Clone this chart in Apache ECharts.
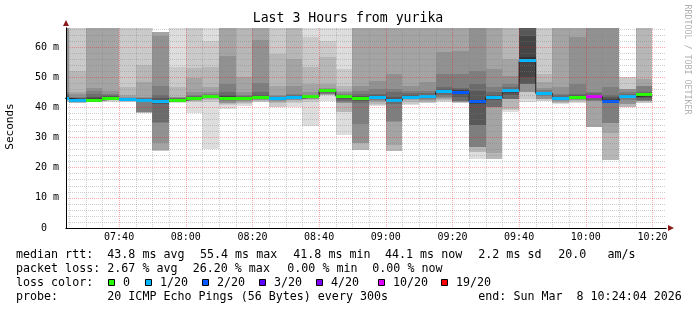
<!DOCTYPE html>
<html><head><meta charset="utf-8">
<script src="https://cdn.jsdelivr.net/npm/echarts@6/dist/echarts.min.js"></script>
<style>html,body{margin:0;padding:0;background:#fff}#c{width:697px;height:310px}</style>
</head><body><div id="c"></div>
<script>
// ---- data ----
const barEndTimes = ['07:25','07:30','07:35','07:40','07:45','07:50','07:55',
  '08:00','08:05','08:10','08:15','08:20','08:25','08:30','08:35','08:40','08:45','08:50','08:55',
  '09:00','09:05','09:10','09:15','09:20','09:25','09:30','09:35','09:40','09:45','09:50','09:55',
  '10:00','10:05','10:10','10:15','10:20'];
const medianRtt = [43.0,42.4,42.4,42.9,42.5,42.3,41.9,42.4,42.9,43.7,
  42.9,42.9,43.1,42.9,43.1,43.5,45.6,43.7,43.0,43.2,
  42.3,43.4,43.5,45.3,45.0,41.8,43.3,45.5,55.4,44.6,
  42.9,43.4,43.6,42.1,43.6,44.1];
const lostPings = [0.6,0.4,0,0,0.5,0.6,0.8,0,0,0,
  0,0,0,0.4,0.5,0,0,0,0,0.4,
  0.6,0.5,0.4,0.7,1.4,1.6,0.5,0.6,0.8,0.5,
  0.4,0,5.24,1.3,0.4,0];
// 20 sorted ping RTTs per step (ms); 99 = beyond the top of the graph
const pingRtts = [
  [41.7,41.9,42.1,42.3,42.5,42.6,42.7,42.8,42.9,43.0,43.2,43.5,44.0,44.5,45.0,99,99,99,99,99],
  [41.3,41.3,41.6,41.8,42.0,42.1,42.2,42.3,42.3,42.4,42.5,42.8,43.0,43.2,43.5,44.5,45.0,52.2,99,99],
  [41.7,41.8,41.9,42.0,42.1,42.2,42.2,42.3,42.3,42.4,42.6,43.0,43.5,44.5,45.5,46.4,99,99,99,99],
  [41.9,42.1,42.3,42.4,42.5,42.6,42.7,42.8,42.8,42.9,43.0,43.3,43.6,44.0,44.5,45.3,99,99,99,99],
  [41.9,41.9,42.0,42.1,42.2,42.3,42.4,42.4,42.5,42.5,42.7,42.9,43.0,43.1,43.2,43.4,44.0,46.6,99,99],
  [38.0,38.0,38.1,38.5,38.6,38.6,41.7,41.9,42.1,42.2,42.4,42.6,42.8,43.0,43.2,43.5,48.4,54.2,99,99],
  [25.6,25.6,25.7,26.0,28.1,34.9,35.0,41.0,41.5,41.8,42.1,42.5,43.0,44.0,47.1,63.5,64.9,64.9,64.9,64.9],
  [41.5,41.7,41.9,42.0,42.1,42.2,42.2,42.3,42.3,42.4,42.5,42.6,42.8,43.0,43.1,43.3,43.5,46.6,53.5,99],
  [38.0,41.8,42.0,42.2,42.4,42.5,42.6,42.7,42.8,42.9,43.0,43.2,43.4,43.6,44.0,45.2,49.6,52.9,99,99],
  [26.1,41.7,42.3,42.8,43.0,43.2,43.3,43.4,43.5,43.6,43.8,43.9,44.0,44.2,44.5,45.2,46.6,53.3,61.9,99],
  [39.5,40.8,41.1,41.3,41.6,42.0,42.3,42.5,42.7,42.8,43.2,43.8,44.2,45.2,47.7,57.1,99,99,99,99],
  [40.4,41.2,41.6,41.9,42.2,42.4,42.5,42.6,42.7,42.8,43.0,43.2,43.5,43.8,44.2,45.0,50.0,99,99,99],
  [41.7,41.9,42.1,42.3,42.5,42.6,42.7,42.8,42.9,43.0,43.3,43.7,44.2,45.0,48.0,62.3,99,99,99,99],
  [40.0,40.0,41.5,41.9,42.1,42.3,42.5,42.6,42.7,42.8,43.0,43.1,43.3,43.5,43.8,44.2,47.2,57.7,99,99],
  [40.0,41.5,42.0,42.3,42.5,42.7,42.8,42.9,43.0,43.0,43.2,43.4,43.7,44.0,44.5,47.2,56.0,99,99,99],
  [33.8,41.8,42.3,42.6,42.9,43.0,43.1,43.2,43.3,43.4,43.6,43.7,43.8,44.0,44.2,45.0,47.7,53.3,63.2,99],
  [42.0,44.0,44.1,44.2,44.3,44.5,44.8,45.0,45.2,45.4,45.7,45.8,45.9,46.0,46.2,46.5,47.7,56.6,62.1,99],
  [30.8,38.5,38.6,41.4,41.6,41.8,42.2,42.8,43.2,43.5,43.8,43.9,44.0,44.2,44.5,45.0,45.5,47.2,52.7,99],
  [25.9,25.9,25.9,28.1,28.1,34.5,41.3,42.2,42.6,42.9,43.1,43.4,43.8,44.5,45.5,47.2,99,99,99,99],
  [40.5,40.8,41.2,41.8,42.2,42.5,42.7,42.9,43.0,43.1,43.3,43.6,44.0,44.5,46.0,48.8,99,99,99,99],
  [25.6,25.6,25.6,27.5,35.2,35.5,41.0,41.8,42.0,42.2,42.5,42.8,43.5,45.0,46.0,51.0,99,99,99,99],
  [40.8,41.2,41.8,42.3,42.6,42.8,43.0,43.1,43.2,43.3,43.5,43.8,44.2,44.8,45.5,47.2,99,99,99,99],
  [41.3,41.6,41.9,42.2,42.5,42.8,43.0,43.1,43.2,43.4,43.6,43.8,44.2,44.8,45.5,48.3,99,99,99,99],
  [41.7,42.0,42.3,42.6,43.0,43.3,44.0,44.6,45.0,45.2,45.4,45.8,46.0,46.6,51.0,58.2,99,99,99,99],
  [41.5,41.6,41.7,41.8,41.9,42.0,42.1,43.5,44.3,44.8,45.2,45.6,46.0,46.5,51.0,58.8,99,99,99,99],
  [22.8,25.3,25.3,27.0,27.0,27.0,34.1,34.1,41.0,41.6,42.0,42.5,45.5,47.7,52.2,99,99,99,99,99],
  [22.8,22.8,22.8,25.0,40.0,40.0,40.0,42.5,43.0,43.2,43.5,43.8,44.2,45.0,46.6,52.7,99,99,99,99],
  [38.6,39.0,39.4,42.6,42.6,42.6,42.6,44.0,44.8,45.3,45.8,46.0,46.2,46.8,47.7,50.5,56.0,99,99,99],
  [41.8,42.8,45.0,45.0,45.0,47.7,47.7,47.7,50.0,55.2,56.6,63.8,99,99,99,99,99,99,99,99],
  [42.0,42.0,42.6,42.6,42.6,43.8,44.0,44.2,44.4,44.5,44.7,44.9,45.0,45.2,45.6,46.5,48.3,51.0,99,99],
  [41.1,41.3,41.6,41.9,42.2,42.4,42.6,42.7,42.8,42.85,43.0,43.2,43.5,44.0,44.5,46.6,99,99,99,99],
  [41.5,41.7,42.0,42.3,42.5,42.8,43.0,43.1,43.2,43.3,43.5,43.7,44.0,44.5,47.7,63.2,99,99,99,99],
  [33.6,33.6,33.6,33.6,42.2,42.2,42.5,43.0,43.3,43.5,43.7,43.9,44.2,44.8,45.0,99,99,99,99,99],
  [22.5,22.5,22.5,31.6,34.9,34.9,41.4,41.8,42.0,42.1,42.3,42.8,43.5,44.0,46.6,99,99,99,99,99],
  [40.0,40.0,40.0,41.1,41.1,42.5,43.0,43.2,43.4,43.5,43.7,43.8,44.0,44.3,45.0,46.0,46.0,46.0,50.0,50.0],
  [41.3,41.3,42.0,42.0,42.0,42.0,42.5,43.0,43.5,43.9,44.2,44.4,44.7,45.0,47.2,47.2,49.4,99,99,99]
];
const xTickLabels = ['07:40','08:00','08:20','08:40','09:00','09:20','09:40','10:00','10:20'];
const yTickValues = [0,10,20,30,40,50,60];
const yTickLabels = ['0  ','10 m','20 m','30 m','40 m','50 m','60 m'];
const lossThresholds = [0,1,2,3,4,10,19];
const lossColors = ['#26ff00','#00b8ff','#0059ff','#5e00ff','#7e00ff','#dd00ff','#ff0000'];
const lossLabels = ['0','1/20','2/20','3/20','4/20','10/20','19/20'];
const endTime = '10:24:04';
const yMax = 66.3;
const stepMin = 5;

// ---- build ----
const toMin = s => { const a = s.split(':').map(Number); return a[0]*60 + a[1] + (a[2]||0)/60; };
const tEnd = toMin(endTime), tStart = tEnd - 180;
const MONO = 'DejaVu Sans Mono';

const smokeData = [];
pingRtts.forEach((p, i) => {
  const e = toMin(barEndTimes[i]), s = e - stepMin;
  for (let k = 0; k < 10; k++) {
    const lo = p[k], hi = p[19 - k];
    if (lo == null || hi == null) continue;
    smokeData.push([s, e, lo, Math.min(hi, yMax), k]);
  }
});
const lossIdx = l => { for (let i = 0; i < lossThresholds.length; i++) if (l <= lossThresholds[i]) return i; return lossThresholds.length - 1; };
const medianData = medianRtt.map((m, i) => { const e = toMin(barEndTimes[i]); return [e - stepMin, e, m, lossIdx(lostPings[i])]; });
const lineData = [[toMin(barEndTimes[0]) - stepMin, medianRtt[0]]].concat(medianRtt.map((m, i) => [toMin(barEndTimes[i]), m]));

const majorX = xTickLabels.map(toMin);
const minorX = [];
for (let t = Math.ceil(tStart / 5) * 5; t <= tEnd; t += 5) if (majorX.indexOf(t) < 0) minorX.push(t);
const minorY = [];
for (let v = 2; v <= yMax; v += 2) if (v % 10 !== 0) minorY.push(v);

function clipRect(params, api, x0, x1, y0, y1) {
  const a = api.coord([x0, y1]), b = api.coord([x1, y0]);
  const r = { x: Math.round(a[0]), y: Math.round(a[1]) };
  r.width = Math.round(b[0]) - r.x; r.height = Math.round(b[1]) - r.y;
  const cs = params.coordSys;
  return echarts.graphic.clipRectByRect(r, { x: cs.x, y: cs.y, width: cs.width, height: cs.height });
}

const grayHex = k => { const g = (221 - 19 * k).toString(16).padStart(2, '0'); return '#' + g + g + g; };

const gText = (x, y, text, extra) => ({
  type: 'text', x, y, silent: true,
  style: Object.assign({ text, fill: '#000', fontFamily: MONO, fontSize: 11.66,
    textAlign: 'left', align: 'left', textVerticalAlign: 'middle', verticalAlign: 'middle' }, extra || {})
});

const graphics = [];
graphics.push(gText(348, 19, 'Last 3 Hours from yurika', { fontSize: 13.2, textAlign: 'center', align: 'center' }));
graphics.push(Object.assign(gText(10.5, 126.5, 'Seconds', { fontSize: 11, textAlign: 'center', align: 'center' }), { rotation: Math.PI / 2 }));
graphics.push(Object.assign(gText(687.5, 59.5, 'RRDTOOL / TOBI OETIKER', { fontSize: 8.3, fill: '#b0b0b0', textAlign: 'center', align: 'center' }), { rotation: -Math.PI / 2 }));
const rows = [
  [255, [[16, 'median rtt:'], [107.3, '43.8 ms avg'], [200, '55.4 ms max'], [293.3, '41.8 ms min'], [385, '44.1 ms now'], [478.3, '2.2 ms sd'], [558.3, '20.0   am/s']]],
  [268.5, [[16, 'packet loss:'], [107.3, '2.67 % avg'], [192.7, '26.20 % max'], [287.3, '0.00 % min'], [372.3, '0.00 % now']]],
  [282.7, [[16, 'loss color:']]],
  [297, [[16, 'probe:'], [107.3, '20 ICMP Echo Pings (56 Bytes) every 300s'], [478.3, 'end: Sun Mar  8 10:24:04 2026']]]
];
rows.forEach(r => r[1].forEach(t => graphics.push(gText(t[0], r[0], t[1]))));
const boxX = [108.5, 145.5, 202.5, 259.5, 316.5, 378.5, 441.5];
lossColors.forEach((c, i) => {
  graphics.push({ type: 'rect', silent: true, shape: { x: boxX[i], y: 279.5, width: 6, height: 6 }, style: { fill: c, stroke: '#000', lineWidth: 1 } });
  graphics.push(gText(boxX[i] + 14.5, 282.7, lossLabels[i]));
});

const MINOR = 'rgba(128,128,128,0.38)';
const MAJOR = 'rgba(255,0,0,0.33)';

const chart = echarts.init(document.getElementById('c'), null, { renderer: 'canvas' });
chart.setOption({
  animation: false,
  backgroundColor: '#fff',
  grid: { left: 66, top: 28, width: 600, height: 200, containLabel: false },
  xAxis: [
    { type: 'value', min: tStart, max: tEnd, position: 'bottom', z: 10,
      axisLine: { show: true, onZero: false, lineStyle: { color: '#000', width: 1 } },
      axisTick: { show: false, customValues: minorX },
      axisLabel: { show: false },
      splitLine: { show: true, lineStyle: { color: MINOR, width: 1, type: [1, 1] } } },
    { type: 'value', min: tStart, max: tEnd, position: 'bottom', z: 9,
      axisLine: { show: true, onZero: false, symbol: ['none', 'triangle'], symbolSize: [6, 6], symbolOffset: [0, 5], lineStyle: { color: '#8b1a1a', width: 1 } },
      axisTick: { show: false, customValues: majorX },
      axisLabel: { show: true, customValues: majorX, margin: 4, color: '#000', fontFamily: MONO, fontSize: 10,
        formatter: v => xTickLabels[majorX.indexOf(v)] },
      splitLine: { show: true, lineStyle: { color: MAJOR, width: 1, type: [1, 1] } } }
  ],
  yAxis: [
    { type: 'value', min: 0, max: yMax, position: 'left', z: 10,
      axisLine: { show: true, onZero: false, lineStyle: { color: '#000', width: 1 } },
      axisTick: { show: false, customValues: minorY },
      axisLabel: { show: false },
      splitLine: { show: true, lineStyle: { color: MINOR, width: 1, type: [1, 1] } } },
    { type: 'value', min: 0, max: yMax, position: 'left', z: 9,
      axisLine: { show: true, onZero: false, symbol: ['none', 'triangle'], symbolSize: [6, 6], symbolOffset: [0, 5], lineStyle: { color: '#8b1a1a', width: 1 } },
      axisTick: { show: false, customValues: yTickValues },
      axisLabel: { show: true, customValues: yTickValues, margin: 7, color: '#000', fontFamily: MONO, fontSize: 10,
        formatter: v => yTickLabels[yTickValues.indexOf(v)] },
      splitLine: { show: true, lineStyle: { color: MAJOR, width: 1, type: [1, 1] } } }
  ],
  series: [
    { type: 'custom', name: 'smoke', xAxisIndex: 0, yAxisIndex: 0, z: 2, silent: true, clip: true,
      encode: { x: [0, 1], y: [2, 3] }, data: smokeData,
      renderItem: (params, api) => {
        const shape = clipRect(params, api, api.value(0), api.value(1), api.value(2), api.value(3));
        return shape && { type: 'rect', shape, style: { fill: grayHex(api.value(4)) } };
      } },
    { type: 'line', name: 'median', xAxisIndex: 0, yAxisIndex: 0, z: 3, step: 'start', symbol: 'none', silent: true,
      data: lineData, lineStyle: { color: '#202020', width: 1 } },
    { type: 'custom', name: 'medianLoss', xAxisIndex: 0, yAxisIndex: 0, z: 4, silent: true, clip: true,
      encode: { x: [0, 1], y: 2 }, data: medianData,
      renderItem: (params, api) => {
        const a = api.coord([api.value(0), api.value(2)]), b = api.coord([api.value(1), api.value(2)]);
        const r = { x: Math.round(a[0]), y: Math.round(a[1] - 1.5), width: Math.round(b[0]) - Math.round(a[0]), height: 3 };
        const cs = params.coordSys;
        const shape = echarts.graphic.clipRectByRect(r, { x: cs.x, y: cs.y, width: cs.width, height: cs.height });
        return shape && { type: 'rect', shape, style: { fill: lossColors[api.value(3)] } };
      } }
  ],
  graphic: graphics
});
</script>
</body></html>
